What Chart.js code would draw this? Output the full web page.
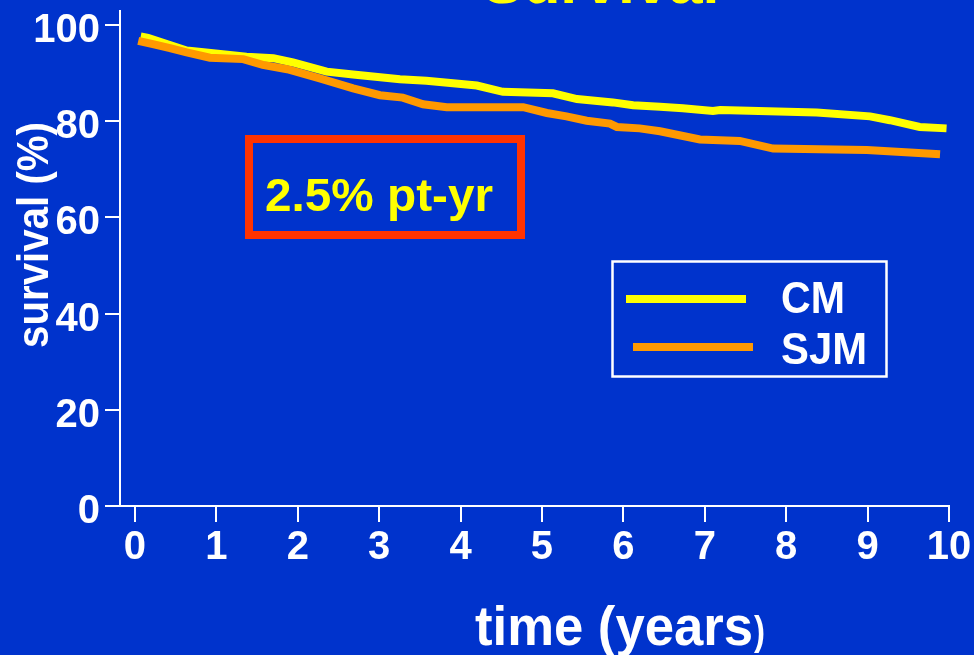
<!DOCTYPE html>
<html lang="en">

<head>
    <meta charset="UTF-8">
    <title>Survival</title>
    <style>
        html, body {
            margin: 0;
            padding: 0;
            background: #0033cc;
            overflow: hidden;
        }
    </style>
</head>

<body>
    <canvas id="myChart" width="974" height="655"></canvas>

    <script src="https://cdn.jsdelivr.net/npm/chart.js"></script>

    <script>
        // survival curves (time in years, survival in %)
        var cmTime = [0.07, 0.16, 0.635, 0.96, 1.37, 1.70, 1.94, 2.355, 2.68, 3.255, 3.58, 4.20, 4.52, 5.135, 5.43,
            5.87, 6.12, 6.45, 6.73, 7.10, 7.19, 8.375, 9.03, 9.275, 9.64, 9.97];
        var cmSurv = [97.6, 97.3, 94.7, 94.1, 93.4, 93.1, 92.2, 90.3, 89.7, 88.7, 88.4, 87.4, 86.1, 85.8, 84.6,
            83.9, 83.3, 83.0, 82.7, 82.1, 82.3, 81.8, 81.0, 80.2, 78.8, 78.5];

        var sjmTime = [0.04, 0.22, 0.43, 0.635, 0.92, 1.33, 1.57, 1.87, 2.27, 2.68, 3.01, 3.29, 3.54, 3.83, 4.77,
            5.06, 5.30, 5.55, 5.835, 5.92, 6.20, 6.45, 6.94, 7.43, 7.84, 8.99, 9.89];
        var sjmSurv = [96.7, 96.0, 95.2, 94.3, 93.2, 92.9, 91.7, 90.8, 88.9, 86.8, 85.4, 84.9, 83.5, 82.9, 82.9,
            81.7, 81.0, 80.1, 79.5, 78.8, 78.5, 77.9, 76.2, 75.9, 74.3, 74.0, 73.1];

        var xTicks = [0, 1, 2, 3, 4, 5, 6, 7, 8, 9, 10];
        var yTicks = [0, 20, 40, 60, 80, 100];
        var seriesNames = ['CM', 'SJM'];
        var seriesColors = ['#ffff00', '#ff9900'];

        var FONT = 'Liberation Sans, Arial, sans-serif';

        function toPoints(t, v) {
            return t.map((x, i) => ({ x: x, y: v[i] }));
        }

        // draw text squeezed/stretched to a given width
        function fitText(c, text, x, y, size, width, align) {
            c.save();
            c.font = 'bold ' + size + 'px ' + FONT;
            var w = c.measureText(text).width;
            var k = width / w;
            c.translate(x, y);
            c.scale(k, 1);
            c.textAlign = align || 'left';
            c.textBaseline = 'alphabetic';
            c.fillText(text, 0, 0);
            c.restore();
        }

        var slideBits = {
            id: 'slideBits',
            beforeDraw(chart) {
                var c = chart.ctx;
                c.save();
                c.fillStyle = '#0033cc';
                c.fillRect(0, 0, chart.width, chart.height);
                c.restore();
            },
            afterDraw(chart) {
                var c = chart.ctx;
                c.save();

                // title, cut off by the top edge
                c.fillStyle = '#ffff00';
                fitText(c, 'Survival', 601, 3, 62, 237, 'center');

                // y axis title
                c.fillStyle = '#ffffff';
                c.save();
                c.translate(48, 235);
                c.rotate(-Math.PI / 2);
                fitText(c, 'survival (%)', 0, 0, 45, 226, 'center');
                c.restore();

                // x axis title, the closing bracket is smaller on the slide
                fitText(c, 'time (years', 475, 645, 56, 278, 'left');
                fitText(c, ')', 754, 645, 40, 11, 'left');

                // rate box
                c.strokeStyle = '#ff3300';
                c.lineWidth = 8;
                c.strokeRect(249, 139, 272, 96);
                c.fillStyle = '#ffff00';
                fitText(c, '2.5% pt-yr', 265, 211, 47, 228, 'left');

                // legend
                c.strokeStyle = '#ffffff';
                c.lineWidth = 2.5;
                c.strokeRect(612.5, 261.5, 274, 115);
                c.lineWidth = 8;
                c.strokeStyle = seriesColors[0];
                c.beginPath();
                c.moveTo(626, 299);
                c.lineTo(746, 299);
                c.stroke();
                c.strokeStyle = seriesColors[1];
                c.beginPath();
                c.moveTo(633, 347);
                c.lineTo(753, 347);
                c.stroke();
                c.fillStyle = '#ffffff';
                fitText(c, seriesNames[0], 781, 313, 45, 64, 'left');
                fitText(c, seriesNames[1], 781, 364, 45, 86, 'left');

                c.restore();
            }
        };

        var ctx = document.getElementById('myChart');

        var myChart = new Chart(ctx, {
            type: 'line',
            data: {
                datasets: [{
                    label: seriesNames[0],
                    data: toPoints(cmTime, cmSurv),
                    borderColor: seriesColors[0],
                    borderWidth: 8,
                    pointRadius: 0,
                    tension: 0,
                    order: 2
                }, {
                    label: seriesNames[1],
                    data: toPoints(sjmTime, sjmSurv),
                    borderColor: seriesColors[1],
                    borderWidth: 8,
                    pointRadius: 0,
                    tension: 0,
                    order: 1
                }]
            },
            options: {
                responsive: false,
                animation: false,
                layout: {
                    padding: { top: 11, right: 25, left: 0, bottom: 0 }
                },
                scales: {
                    x: {
                        type: 'linear',
                        min: -0.184,
                        max: 10,
                        afterBuildTicks: s => { s.ticks = xTicks.map(v => ({ value: v })); },
                        afterFit: s => {
                            s.height = 149;
                            s.paddingLeft = 0;
                            s.paddingRight = 0;
                        },
                        border: { color: '#ffffff', width: 2 },
                        grid: { drawOnChartArea: false, drawTicks: true, tickLength: 16, color: '#ffffff', lineWidth: 2 },
                        ticks: {
                            color: '#ffffff',
                            font: { family: FONT, weight: 'bold', size: 40 },
                            padding: 2,
                            maxRotation: 0,
                            autoSkip: false
                        }
                    },
                    y: {
                        min: 0,
                        max: 102.9,
                        afterBuildTicks: s => { s.ticks = yTicks.map(v => ({ value: v })); },
                        afterFit: s => {
                            s.width = 120;
                            s.paddingTop = 0;
                            s.paddingBottom = 0;
                        },
                        border: { color: '#ffffff', width: 2 },
                        grid: { drawOnChartArea: false, drawTicks: true, tickLength: 15, color: '#ffffff', lineWidth: 2 },
                        ticks: {
                            color: '#ffffff',
                            font: { family: FONT, weight: 'bold', size: 40 },
                            padding: 5,
                            labelOffset: 6
                        }
                    }
                },
                plugins: {
                    legend: { display: false },
                    tooltip: { enabled: false }
                }
            },
            plugins: [slideBits]
        });
    </script>

</body>

</html>
